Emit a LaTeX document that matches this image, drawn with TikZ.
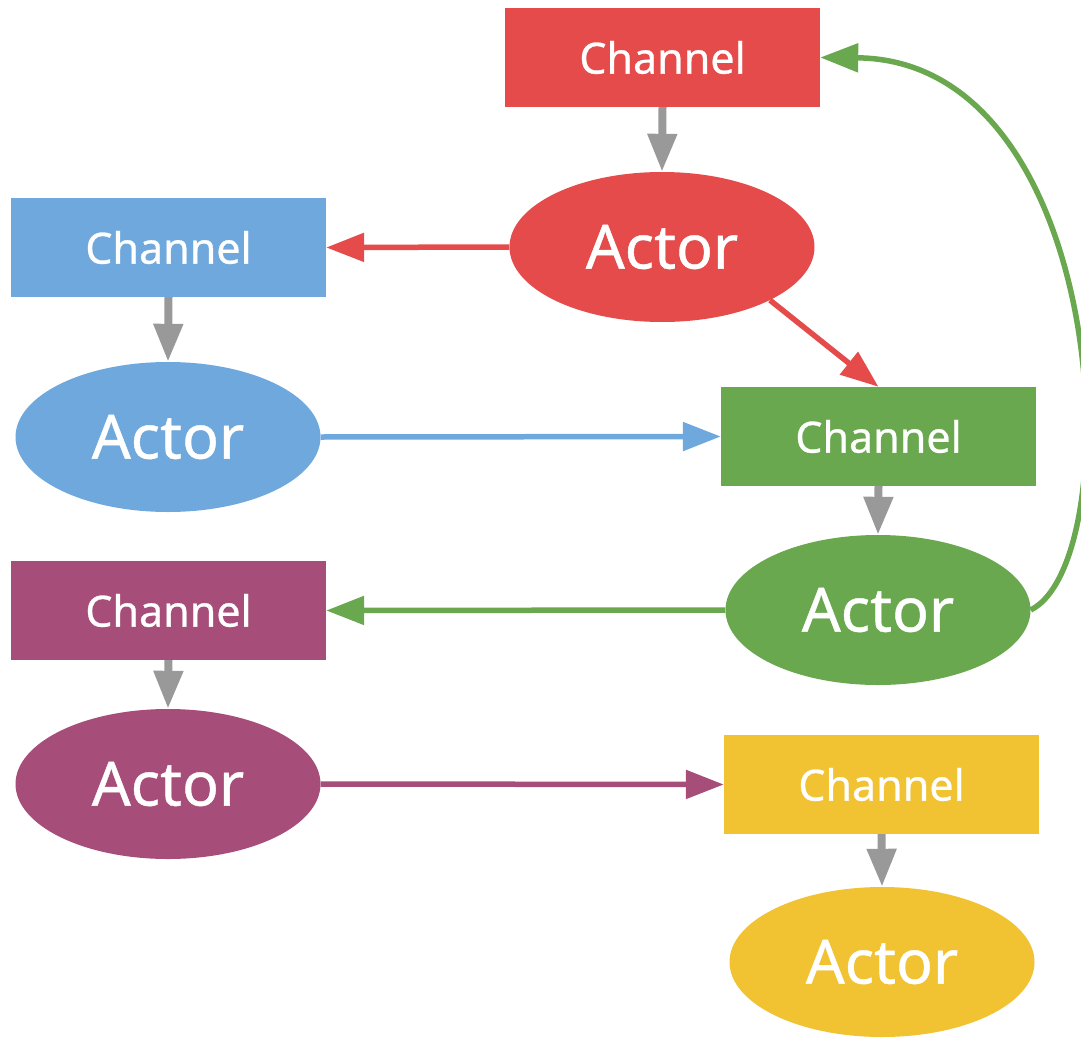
\documentclass[tikz,border=0pt]{standalone}
\usepackage{fontspec}
\setmainfont{Noto Sans}
\newfontfamily\labelfont{Noto Sans}[FakeBold=0.7]
\usetikzlibrary{arrows.meta,shapes.geometric}
\definecolor{cred}{HTML}{E54B4B}
\definecolor{cblue}{HTML}{6FA8DC}
\definecolor{cgreen}{HTML}{6AA84F}
\definecolor{cpurple}{HTML}{A64D79}
\definecolor{cyellow}{HTML}{F1C232}
\definecolor{cgray}{HTML}{999999}
\begin{document}
\begin{tikzpicture}[x=1pt,y=-1pt,
  chan/.style={rectangle, minimum width=315pt, minimum height=99pt, inner sep=0pt,
    text=white, font=\labelfont\fontsize{43}{43}\selectfont},
  act/.style={ellipse, minimum width=305pt, minimum height=150pt, inner sep=0pt,
    text=white, font=\labelfont\fontsize{61}{61}\selectfont},
  feed/.style={draw=cgray, line width=8pt, -{Triangle[length=38pt,width=28pt]}},
  link/.style={line width=5.5pt, -{Triangle[length=38pt,width=28pt]}}]
\useasboundingbox (0,0) rectangle (1081,1038);

% channels
\node[chan, fill=cred]    (rc) at (662.5,57.5)  {Channel};
\node[chan, fill=cblue]   (bc) at (168.5,247.5) {Channel};
\node[chan, fill=cgreen]  (gc) at (878.5,436.5) {Channel};
\node[chan, fill=cpurple] (pc) at (168.5,610.5) {Channel};
\node[chan, fill=cyellow] (yc) at (881.5,784.5) {Channel};

% actors
\node[act, fill=cred]    (ra) at (662,247) {Actor};
\node[act, fill=cblue]   (ba) at (168,437) {Actor};
\node[act, fill=cgreen]  (ga) at (878,610) {Actor};
\node[act, fill=cpurple] (pa) at (168,784) {Actor};
\node[act, fill=cyellow] (ya) at (882,962) {Actor};

% each channel feeds its actor
\draw[feed] (rc.south) -- (ra.north);
\draw[feed] (bc.south) -- (ba.north);
\draw[feed] (gc.south) -- (ga.north);
\draw[feed] (pc.south) -- (pa.north);
\draw[feed] (yc.south) -- (ya.north);

% actors sending to channels
\draw[link, draw=cred] (ra.west) -- (bc.east);
\draw[link, draw=cred] (ra.south east) -- (gc.north);
\draw[link, draw=cblue] (ba.east) -- (gc.west);
\draw[link, draw=cgreen] (ga.west) -- (pc.east);
\draw[link, draw=cpurple] (pa.east) -- (yc.west);
\draw[link, draw=cgreen] (ga.east)
  .. controls (1130,560) and (1110,60) .. (rc.east);
\end{tikzpicture}
\end{document}
